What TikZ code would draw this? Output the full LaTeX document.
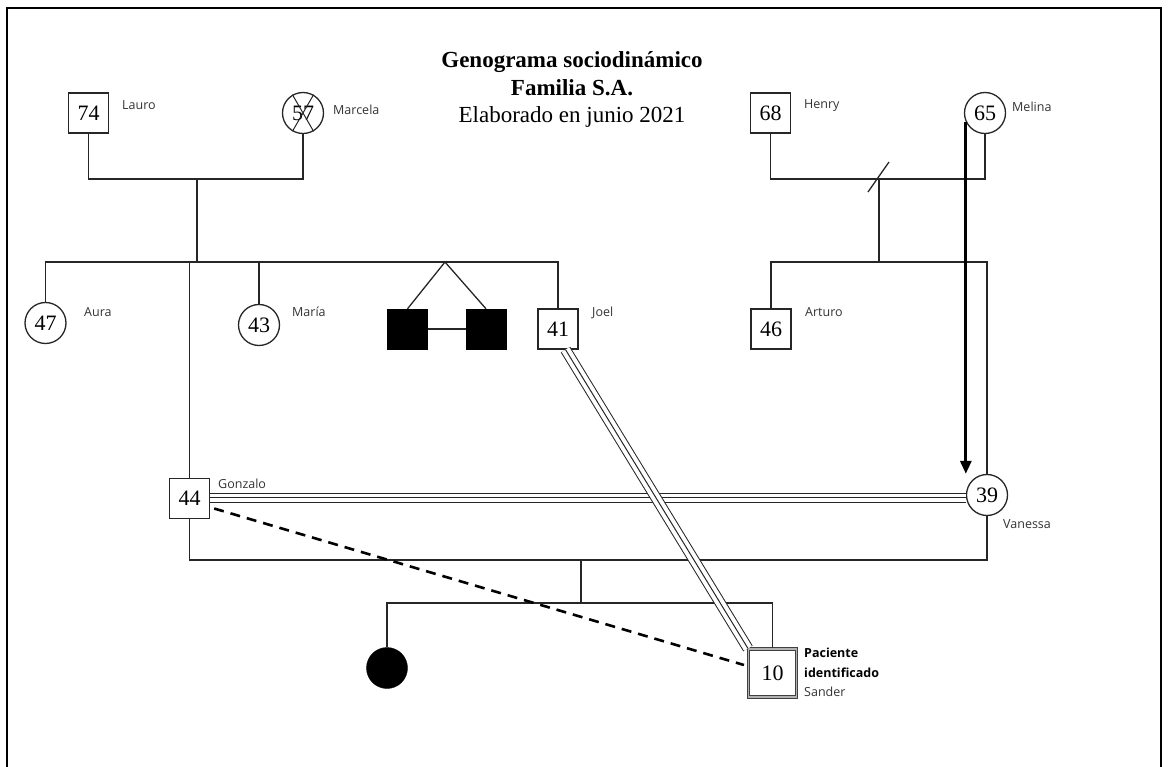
\documentclass[tikz,border=0pt]{standalone}
\usepackage{fontspec}
\setmainfont{Liberation Serif}
\newfontfamily\lblfont{Open Sans}
\usetikzlibrary{arrows.meta,calc}
\begin{document}
\begin{tikzpicture}[x=1pt,y=-1pt,
  ln/.style={line width=1.3pt, draw=black!85},
  male/.style={draw=black!85, line width=1.3pt, rectangle, minimum size=40pt, inner sep=0pt, font=\fontsize{22}{22}\selectfont},
  female/.style={draw=black!85, line width=1.3pt, circle, minimum size=41pt, inner sep=0pt, font=\fontsize{22}{22}\selectfont},
  filledm/.style={draw=black, fill=black, rectangle, minimum size=40pt, inner sep=0pt},
  filledf/.style={draw=black, fill=black, circle, minimum size=41pt, inner sep=0pt},
  patient/.style={draw=black!75, double=black!30, double distance=1.5pt, line width=1.1pt, rectangle, minimum size=48pt, inner sep=0pt, font=\fontsize{22}{22}\selectfont},
  lbl/.style={anchor=base west, inner sep=0pt, text=black!80, font=\lblfont\fontsize{12.5}{15}\selectfont},
  lblb/.style={anchor=base west, inner sep=0pt, text=black, font=\lblfont\bfseries\fontsize{12.5}{15}\selectfont},
  ttl/.style={anchor=base, inner sep=0pt, font=\fontsize{23}{26}\selectfont},
  triplebase/.style={double, double=white, draw=black!85, line width=1pt},
  dashrel/.style={draw=black, line width=2.6pt, dash pattern=on 10pt off 7pt},
  strongarrow/.style={draw=black, line width=3pt, -{Triangle[length=13pt,width=11pt]}}
]
\useasboundingbox (0,0) rectangle (1171,767);
\draw[line width=2pt] (7,767) -- (7,8) -- (1161,8) -- (1161,767);

% title
\node[ttl] (t1) at (572,68) {\textbf{Genograma sociodinámico}};
\node[ttl] (t2) at (572,96) {\textbf{Familia S.A.}};
\node[ttl] (t3) at (572,123) {Elaborado en junio 2021};

% persons
\node[male] (lauro) at (88.5,113) {74};
\node[female] (marcela) at (303,113) {57};
\node[male] (henry) at (770.5,113) {68};
\node[female] (melina) at (985,113) {65};
\node[female] (aura) at (45.5,323) {47};
\node[female] (maria) at (259,325) {43};
\node[filledm] (twina) at (407.5,329) {};
\node[filledm] (twinb) at (486,329) {};
\node[male] (joel) at (558,329) {41};
\node[male] (arturo) at (771,329) {46};
\node[male] (gonzalo) at (189.5,498.5) {44};
\node[female] (vanessa) at (987,495) {39};
\node[filledf] (hija) at (387,668) {};
\node[patient] (sander) at (772.5,673) {10};

% labels
\node[lbl] (llauro) at (122,110) {Lauro};
\node[lbl] (lmarcela) at (333,115) {Marcela};
\node[lbl] (lhenry) at (804,109) {Henry};
\node[lbl] (lmelina) at (1012,112) {Melina};
\node[lbl] (laura) at (84,317) {Aura};
\node[lbl] (lmaria) at (292,317) {María};
\node[lbl] (ljoel) at (592,317) {Joel};
\node[lbl] (larturo) at (805,317) {Arturo};
\node[lbl] (lgonzalo) at (218,488) {Gonzalo};
\node[lbl] (lvanessa) at (1003,528) {Vanessa};
\node[lblb] (lpac1) at (804,657) {Paciente};
\node[lblb] (lpac2) at (804,677) {identificado};
\node[lbl] (lsander) at (804,696) {Sander};

% Marcela deceased cross
\draw[ln, line width=1pt] (marcela.120) -- (marcela.-60);
\draw[ln, line width=1pt] (marcela.60) -- (marcela.-120);

% coordinates
\coordinate (lm) at (197,179);
\coordinate (sib) at (197,262);
\coordinate (apex) at (445,262);
\coordinate (hm) at (879,179);
\coordinate (hmk) at (879,262);
\coordinate (pb) at (581,560);
\coordinate (cb) at (581,603);

% Lauro - Marcela
\draw[ln] (lauro.south) -- (lauro.south |- lm) -- (marcela.south |- lm) -- (marcela.south);
\draw[ln] (lm) -- (sib);
\draw[ln] (aura.north) -- (aura.north |- sib) -- (joel.north |- sib) -- (joel.north);
\draw[ln] (gonzalo.north) -- (gonzalo.north |- sib);
\draw[ln] (maria.north) -- (maria.north |- sib);
\draw[ln] (twina.north) -- (apex) -- (twinb.north);
\draw[ln] (twina.east) -- (twinb.west);

% Henry - Melina (divorced)
\draw[ln] (henry.south) -- (henry.south |- hm) -- (melina.south |- hm) -- (melina.south);
\coordinate (slA) at (868,192);
\coordinate (slB) at (889,162);
\draw[ln] (slA) -- (slB);
\draw[ln] (hm) -- (hmk);
\draw[ln] (arturo.north) -- (arturo.north |- hmk) -- (vanessa.north |- hmk) -- (vanessa.north);

% Melina -> Vanessa strong arrow
\draw[strongarrow] (melina.-155) -- (melina.-155 |- vanessa.north);

% Gonzalo = Vanessa (fused)
\coordinate (gv) at ($(gonzalo.east)+(0,-1)$);
\draw[triplebase, double distance=8pt] (gv) -- (gv -| vanessa.west);
\draw[ln, line width=1pt] (gv) -- (gv -| vanessa.west);

% children of Gonzalo and Vanessa
\draw[ln] (gonzalo.south) -- (gonzalo.south |- pb) -- (vanessa.south |- pb) -- (vanessa.south);
\draw[ln] (pb) -- (cb);
\draw[ln] (hija.north) -- (hija.north |- cb) -- (sander.north |- cb) -- (sander.north);

% Joel = Sander (fused)
\draw[triplebase, double distance=9pt] (joel.-70) -- (sander.north west);
\draw[ln, line width=1pt] (joel.-70) -- (sander.north west);

% Gonzalo - - Sander (distant)
\draw[dashrel] ($(gonzalo.east)+(4,10)$) -- ($(sander.west)+(-4,-8)$);
\end{tikzpicture}
\end{document}
